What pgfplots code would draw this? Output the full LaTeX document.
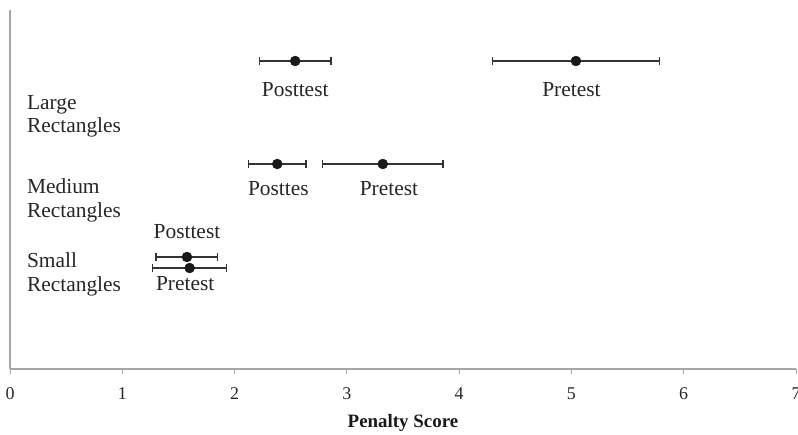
\documentclass[border=0pt]{standalone}
\usepackage{pgfplots}
\pgfplotsset{compat=1.18}
\usepackage{fontspec}
\setmainfont{Liberation Serif}
\usetikzlibrary{calc}
\definecolor{axgray}{HTML}{A6A6A6}
\definecolor{barcol}{HTML}{333333}
\begin{document}
\begin{tikzpicture}
\begin{axis}[
  scale only axis, width=786bp, height=359bp,
  xmin=0, xmax=7, ymin=0, ymax=3.59,
  axis lines*=left,
  axis line style={draw=axgray, line width=1.2bp},
  ytick=\empty,
  xtick={0,1,2,3,4,5,6,7},
  tick align=outside,
  major tick length=5bp,
  tick style={draw=axgray, line width=1bp},
  /pgf/number format/assume math mode=true,
  xticklabel style={font=\fontsize{18}{18}\selectfont, text=black!85, yshift=-10bp},
  xlabel={\textbf{Penalty Score}},
  xlabel style={font=\fontsize{19}{19}\selectfont, at={(rel axis cs:0.5,0)}, anchor=base, yshift=-58bp, text=black!90},
  clip=false,
]
\addplot[only marks, mark=*, mark size=5bp, mark options={fill=black!90, draw=black!90},
  error bars/.cd, x dir=both, x explicit,
  error bar style={line width=1.3bp, color=barcol},
  error mark options={rotate=90, mark size=4bp, line width=1.3bp, color=barcol}]
  coordinates {
  (2.54,3.08) +- (0.32,0)
  (5.04,3.08) +- (0.745,0)
  (2.38,2.05) +- (0.255,0)
  (3.32,2.05) +- (0.535,0)
  (1.576,1.12) +- (0.275,0)
  (1.60,1.01) +- (0.33,0)
  };
\begin{scope}[every node/.style={font=\fontsize{21.5}{24}\selectfont, inner sep=0pt, text=black!85}]
\node[anchor=base west] at (axis cs:0.15,2.59) {Large};
\node[anchor=base west] at (axis cs:0.15,2.36) {Rectangles};
\node[anchor=base west] at (axis cs:0.15,1.76) {Medium};
\node[anchor=base west] at (axis cs:0.15,1.52) {Rectangles};
\node[anchor=base west] at (axis cs:0.15,1.02) {Small};
\node[anchor=base west] at (axis cs:0.15,0.78) {Rectangles};
\node[anchor=base] at (axis cs:2.54,2.72) {Posttest};
\node[anchor=base] at (axis cs:5.00,2.72) {Pretest};
\node[anchor=base] at (axis cs:2.39,1.74) {Posttes};
\node[anchor=base] at (axis cs:3.375,1.74) {Pretest};
\node[anchor=base] at (axis cs:1.576,1.31) {Posttest};
\node[anchor=base] at (axis cs:1.56,0.79) {Pretest};
\end{scope}
\coordinate (BL) at (rel axis cs:0,0);
\coordinate (TR) at (rel axis cs:1,1);
\end{axis}
\pgfresetboundingbox
\path ($(BL)+(-10bp,-65bp)$) rectangle ($(TR)+(2bp,10bp)$);
\end{tikzpicture}
\end{document}
